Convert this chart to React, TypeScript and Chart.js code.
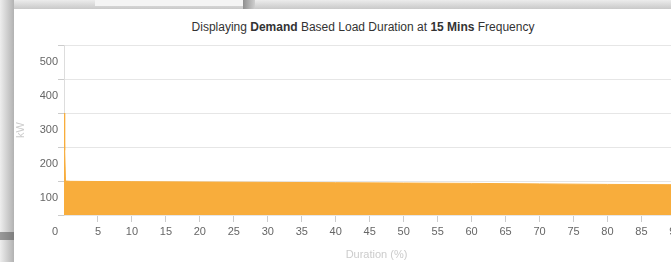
import React, { useEffect, useRef } from 'react';
import { Chart, registerables } from 'chart.js';

Chart.register(...registerables);

// ---- data ----
const durationPct: number[] = [0, 0.1, 0.22, 1, 5, 10, 20, 30, 40, 50, 60, 70, 80, 90, 92];
const demandKW: number[] = [300, 190, 100, 99, 98.5, 98, 97, 96, 95, 94, 93, 91.5, 90, 89, 88.5];
const yMin = 0;
const yMax = 500;
const yStep = 100;
const xMin = 0;
const xMax = 92;
const xStep = 5;
const titleParts: { text: string; bold: boolean }[] = [
  { text: 'Displaying ', bold: false },
  { text: 'Demand', bold: true },
  { text: ' Based Load Duration at ', bold: false },
  { text: '15 Mins', bold: true },
  { text: ' Frequency', bold: false },
];
const yAxisTitle = 'kW';
const xAxisTitle = 'Duration (%)';

const FONT = "'Liberation Sans', Arial, Helvetica, sans-serif";
const ORANGE = '#F8AD3C';

function LoadDurationChart() {
  const ref = useRef<HTMLCanvasElement | null>(null);
  useEffect(() => {
    if (!ref.current) return;
    const points = durationPct.map((x, i) => ({ x, y: demandKW[i] }));
    const chart = new Chart(ref.current, {
      type: 'line',
      data: {
        datasets: [
          {
            label: 'Demand',
            data: points,
            fill: 'origin',
            backgroundColor: ORANGE,
            borderColor: ORANGE,
            borderWidth: 1,
            pointRadius: 0,
            tension: 0,
          },
        ],
      },
      options: {
        animation: false,
        responsive: false,
        devicePixelRatio: 1,
        layout: { padding: { top: 36, right: 25, bottom: 0, left: 0 } },
        plugins: { legend: { display: false }, tooltip: { enabled: false }, title: { display: false } },
        scales: {
          x: {
            type: 'linear',
            min: xMin,
            max: xMax,
            afterFit: (s: any) => {
              s.height = 47;
            },
            border: { display: false },
            grid: {
              drawOnChartArea: false,
              drawTicks: true,
              tickLength: 7,
              tickColor: (c: any) => (c.tick && c.tick.value === 0 ? 'rgba(0,0,0,0)' : '#cccccc'),
            },
            ticks: {
              stepSize: xStep,
              includeBounds: false,
              autoSkip: false,
              maxRotation: 0,
              padding: 3,
              color: '#666666',
              font: { family: FONT, size: 11 },
              callback: (v: any) => (Number(v) === 0 ? '' : String(v)),
            },
            title: {
              display: true,
              text: xAxisTitle,
              color: '#cccccc',
              font: { family: FONT, size: 11 },
              padding: { top: 0, bottom: 0 },
            },
          },
          y: {
            type: 'linear',
            min: yMin,
            max: yMax,
            afterFit: (s: any) => {
              s.width = 50;
            },
            border: { display: true, color: '#dddddd', width: 1 },
            grid: {
              color: '#e6e6e6',
              tickColor: '#cccccc',
              drawTicks: true,
              tickLength: 6,
            },
            ticks: {
              stepSize: yStep,
              padding: 0,
              labelOffset: 17,
              color: '#666666',
              font: { family: FONT, size: 11 },
            },
            title: {
              display: true,
              text: yAxisTitle,
              color: '#cccccc',
              font: { family: FONT, size: 11 },
              padding: { top: 0, bottom: 0 },
            },
          },
        },
      },
    });
    return () => chart.destroy();
  }, []);
  return <canvas ref={ref} width={700} height={253} style={{ display: 'block', position: 'absolute', left: 0, top: 0 }} />;
}

export default function App() {
  return (
    <div
      style={{
        position: 'fixed',
        left: 0,
        top: 0,
        width: 671,
        height: 262,
        overflow: 'hidden',
        background: '#e2e2e2',
      }}
    >
      <div style={{ position: 'absolute', left: 0, top: 0, width: 671, height: 9, background: 'linear-gradient(to bottom, #ececec, #c9c9c9)' }} />
      <div style={{ position: 'absolute', left: 95, top: 0, width: 148, height: 6, background: '#f4f4f4' }} />
      <div style={{ position: 'absolute', left: 243, top: 0, width: 12, height: 9, background: 'linear-gradient(to right, #8f8f8f, #cfcfcf)' }} />
      <div style={{ position: 'absolute', left: 0, top: 0, width: 14, height: 262, background: 'linear-gradient(to right, #eeeeee, #b2b2b2)' }} />
      <div style={{ position: 'absolute', left: 0, top: 232, width: 14, height: 8, background: 'linear-gradient(to right, #9a9a9a, #7e7e7e)' }} />
      <div style={{ position: 'absolute', left: 14, top: 9, width: 698, height: 300, background: '#ffffff' }}>
        <div
          style={{
            position: 'absolute',
            left: 0,
            top: 11,
            width: 698,
            textAlign: 'center',
            fontFamily: FONT,
            fontSize: 12,
            lineHeight: '14px',
            color: '#333333',
            whiteSpace: 'nowrap',
          }}
        >
          {titleParts.map((p, i) => (p.bold ? <b key={i}>{p.text}</b> : <span key={i}>{p.text}</span>))}
        </div>
        <LoadDurationChart />
      </div>
    </div>
  );
}
